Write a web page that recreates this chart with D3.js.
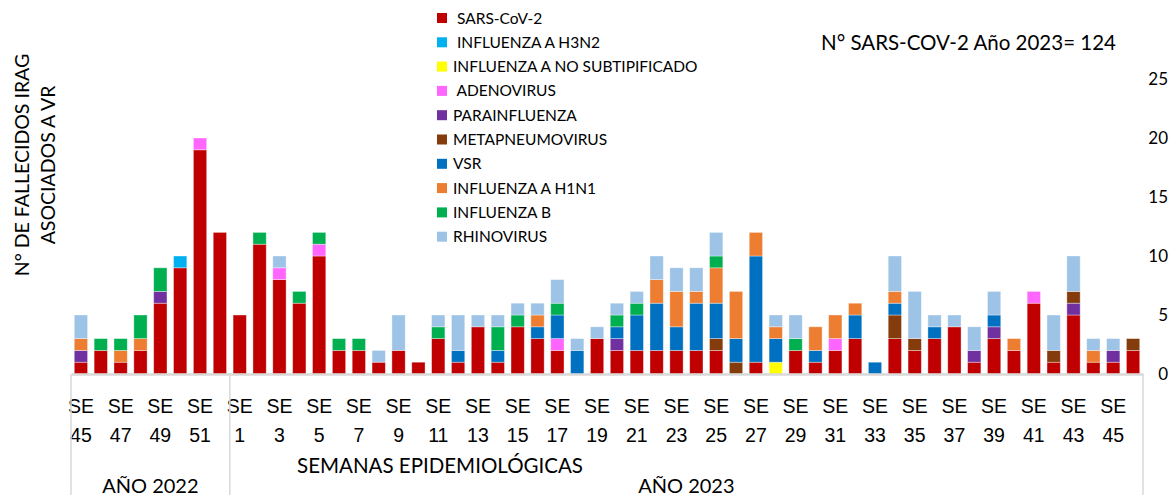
<!DOCTYPE html>
<html>
<head>
<meta charset="utf-8">
<script src="https://cdn.jsdelivr.net/npm/d3@7"></script>
<style>
  body { margin: 0; background: #fff; }
  svg { font-family: Lato, "Open Sans", sans-serif; }
  text { white-space: pre; }
</style>
</head>
<body>
<svg id="chart" width="1176" height="495"></svg>
<script>
// epidemiological weeks: 2022 SE45-52, 2023 SE1-46
const weeks2022 = [45, 46, 47, 48, 49, 50, 51, 52];
const weeks2023 = d3.range(1, 47);

const seriesNames = [' SARS-CoV-2', ' INFLUENZA A H3N2', 'INFLUENZA A NO SUBTIPIFICADO', ' ADENOVIRUS',
  'PARAINFLUENZA', 'METAPNEUMOVIRUS', 'VSR', 'INFLUENZA A H1N1', 'INFLUENZA B', 'RHINOVIRUS'];
const seriesColors = ['#C00000', '#00B0F0', '#FFFF00', '#FF66FF', '#7030A0', '#843C0C', '#0070C0', '#ED7D31', '#00B050', '#9DC3E6'];

// values: 8 weeks of 2022 then 46 weeks of 2023
const sars = [1,2,1,2,6,9,19,12,
  5,11,8,6,10,2,2,1,2,1, 3,1,4,1,4,3,2,0,3,2, 2,2,2,2,2,0,1,0,2,1, 2,3,0,3,2,3,4,1,3,2, 6,1,5,1,1,2];
const h3n2 = [0,0,0,0,0,1,0,0,
  0,0,0,0,0,0,0,0,0,0, 0,0,0,0,0,0,0,0,0,0, 0,0,0,0,0,0,0,0,0,0, 0,0,0,0,0,0,0,0,0,0, 0,0,0,0,0,0];
const noSubtip = [0,0,0,0,0,0,0,0,
  0,0,0,0,0,0,0,0,0,0, 0,0,0,0,0,0,0,0,0,0, 0,0,0,0,0,0,0,1,0,0, 0,0,0,0,0,0,0,0,0,0, 0,0,0,0,0,0];
const adeno = [0,0,0,0,0,0,1,0,
  0,0,1,0,1,0,0,0,0,0, 0,0,0,0,0,0,1,0,0,0, 0,0,0,0,0,0,0,0,0,0, 1,0,0,0,0,0,0,0,0,0, 1,0,0,0,0,0];
const parainf = [1,0,0,0,1,0,0,0,
  0,0,0,0,0,0,0,0,0,0, 0,0,0,0,0,0,0,0,0,1, 0,0,0,0,0,0,0,0,0,0, 0,0,0,0,0,0,0,1,1,0, 0,0,1,0,1,0];
const metapneumo = [0,0,0,0,0,0,0,0,
  0,0,0,0,0,0,0,0,0,0, 0,0,0,0,0,0,0,0,0,0, 0,0,0,0,1,1,0,0,0,0, 0,0,0,2,1,0,0,0,0,0, 0,1,1,0,0,1];
const vsr = [0,0,0,0,0,0,0,0,
  0,0,0,0,0,0,0,0,0,0, 0,1,0,1,0,1,2,2,0,1, 3,4,2,4,3,2,9,2,0,1, 0,2,1,1,0,1,0,0,1,0, 0,0,0,0,0,0];
const h1n1 = [1,0,1,1,0,0,0,0,
  0,0,0,0,0,0,0,0,0,0, 0,0,0,0,0,1,0,0,0,0, 0,2,3,1,3,4,2,1,0,2, 2,1,0,1,0,0,0,0,0,1, 0,0,0,1,0,0];
const influB = [0,1,1,2,2,0,0,0,
  0,1,0,1,1,1,1,0,0,0, 1,0,0,2,1,0,1,0,0,1, 1,0,0,0,1,0,0,0,1,0, 0,0,0,0,0,0,0,0,0,0, 0,0,0,0,0,0];
const rhino = [2,0,0,0,0,0,0,0,
  0,0,1,0,0,0,0,1,3,0, 1,3,1,1,1,1,2,1,1,1, 1,2,2,2,2,0,0,1,2,0, 0,0,0,3,4,1,1,2,2,0, 0,3,3,1,1,0];

const yTicks = [0, 5, 10, 15, 20, 25];
const titleText = 'N° SARS-COV-2 Año 2023= 124';

const allSeries = [sars, h3n2, noSubtip, adeno, parainf, metapneumo, vsr, h1n1, influB, rhino];
const keys = seriesNames.map((d, i) => 's' + i);

const weeks = weeks2022.map(w => ({ year: 2022, week: w }))
  .concat(weeks2023.map(w => ({ year: 2023, week: w })));
const table = weeks.map((w, i) => {
  const row = { id: w.year + '-' + w.week, week: w.week, year: w.year };
  keys.forEach((k, j) => row[k] = allSeries[j][i]);
  return row;
});

const svg = d3.select('#chart');
const margin = { top: 79, left: 71, right: 33, bottom: 121 };
const width = 1176 - margin.left - margin.right;
const height = 495 - margin.top - margin.bottom;

const x = d3.scaleBand()
  .domain(table.map(d => d.id))
  .range([0, width])
  .paddingInner(0.33)
  .paddingOuter(0.165);

const y = d3.scaleLinear()
  .domain([0, 25])
  .range([height, 0]);

const chart = svg.append('g')
  .attr('transform', `translate(${margin.left},${margin.top})`);

// stacked bars
const stack = d3.stack().keys(keys)(table);
chart.selectAll('g.layer')
  .data(stack)
  .join('g')
    .attr('class', 'layer')
    .attr('fill', (d, i) => seriesColors[i])
  .selectAll('rect')
  .data(d => d.filter(p => p[1] > p[0]))
  .join('rect')
    .attr('x', d => x(d.data.id))
    .attr('y', d => y(d[1]))
    .attr('width', x.bandwidth())
    .attr('height', d => y(d[0]) - y(d[1]))
    .attr('stroke', 'rgba(255,255,255,0.45)')
    .attr('stroke-width', 0.8);

// x axis (every other week labelled)
const xAxis = d3.axisBottom(x)
  .tickValues(table.filter((d, i) => i % 2 === 0).map(d => d.id))
  .tickSize(0)
  .tickFormat('');

const xAxisG = chart.append('g')
  .attr('transform', `translate(0,${height})`)
  .call(xAxis);
xAxisG.select('.domain')
  .attr('stroke', '#d9d9d9')
  .attr('stroke-width', 2.5);
xAxisG.selectAll('.tick').each(function(id) {
  const row = table.find(d => d.id === id);
  const t = d3.select(this).append('text')
    .attr('fill', '#000')
    .style('font-size', '19.5px')
    .attr('text-anchor', 'middle');
  t.append('tspan').attr('x', 0).attr('y', 39).text('SE');
  t.append('tspan').attr('x', 0).attr('y', 68).text(row.week);
});

// year group separators
const firstId2023 = '2023-1';
const sepX = [0, x(firstId2023) - x.step() * x.paddingInner() / 2, width];
chart.selectAll('line.sep')
  .data(sepX)
  .join('line')
    .attr('class', 'sep')
    .attr('x1', d => d).attr('x2', d => d)
    .attr('y1', height).attr('y2', height + 125)
    .attr('stroke', '#d9d9d9')
    .attr('stroke-width', 1.5);

chart.append('text')
  .attr('x', (sepX[0] + sepX[1]) / 2)
  .attr('y', height + 119)
  .attr('text-anchor', 'middle')
  .style('font-size', '20px')
  .text('AÑO 2022');

chart.append('text')
  .attr('x', (sepX[1] + sepX[2]) / 2)
  .attr('y', height + 119)
  .attr('text-anchor', 'middle')
  .style('font-size', '20px')
  .text('AÑO 2023');

chart.append('text')
  .attr('x', 440 - margin.left)
  .attr('y', height + 99)
  .attr('text-anchor', 'middle')
  .style('font-size', '20.5px')
  .text('SEMANAS EPIDEMIOLÓGICAS');

// right y axis, labels only
const yAxis = d3.axisRight(y).tickValues(yTicks).tickSize(0).tickPadding(0);
const yAxisG = chart.append('g')
  .attr('transform', `translate(${width + 25},0)`)
  .call(yAxis);
yAxisG.select('.domain').remove();
yAxisG.selectAll('text')
  .attr('text-anchor', 'end')
  .attr('fill', '#000')
  .style('font-family', 'Lato, sans-serif')
  .style('font-size', '17px');

// y axis title
const yTitle = svg.append('text')
  .attr('transform', 'translate(0,165) rotate(-90)')
  .attr('text-anchor', 'middle')
  .style('font-size', '19.5px');
yTitle.append('tspan').attr('x', 0).attr('y', 29).text('N° DE FALLECIDOS IRAG');
yTitle.append('tspan').attr('x', 0).attr('y', 55).text('ASOCIADOS A VR');

// legend
const legend = svg.append('g').attr('transform', 'translate(437,18)');
const item = legend.selectAll('g')
  .data(seriesNames)
  .join('g')
    .attr('transform', (d, i) => `translate(0,${i * 24.3})`);
item.append('rect')
  .attr('x', 0).attr('y', -5)
  .attr('width', 10).attr('height', 10)
  .attr('fill', (d, i) => seriesColors[i]);
item.append('text')
  .attr('x', 16).attr('y', 5.5)
  .style('font-size', '15.5px')
  .text(d => d);

// annotation
svg.append('text')
  .attr('x', 821).attr('y', 50)
  .style('font-size', '20.5px')
  .text(titleText);
</script>
</body>
</html>
